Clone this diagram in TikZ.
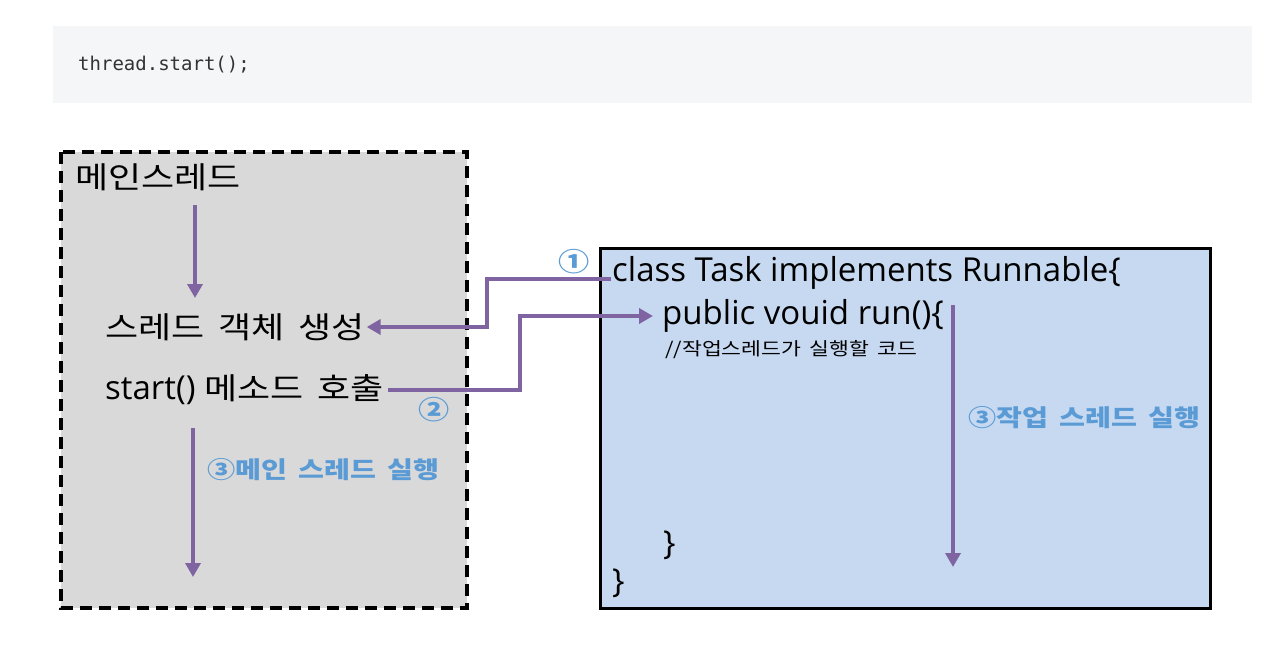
\documentclass[tikz,border=0pt]{standalone}
\usepackage{fontspec}
\setmainfont{Open Sans}
\newfontfamily\kr[FakeStretch=1.2,WordSpace=1.7]{Noto Sans CJK KR}
\newfontfamily\codefont{DejaVu Sans Mono}
\newcommand\krbig{\kr\fontsize{30}{36}\selectfont}
\usetikzlibrary{arrows.meta,calc}
\definecolor{codebg}{HTML}{F5F6F8}
\definecolor{codetxt}{HTML}{333333}
\definecolor{mainbg}{HTML}{D9D9D9}
\definecolor{taskbg}{HTML}{C6D9F1}
\definecolor{purp}{HTML}{8064A2}
\definecolor{numblue}{HTML}{5B9BD5}
\tikzset{
  txt/.style={anchor=west,inner sep=0pt,font=\fontsize{33}{38}\selectfont},
  small/.style={anchor=west,inner sep=0pt,font=\kr\fontsize{18}{21}\selectfont},
  lbl/.style={anchor=west,inner sep=0pt,text=numblue,font=\kr\bfseries\fontsize{23.5}{28}\selectfont},
  num/.style={inner sep=0pt,text=numblue,font=\kr\bfseries\fontsize{26}{30}\selectfont},
  arr/.style={draw=purp,line width=4pt,-{Triangle[length=14pt,width=15pt]}},
  ln/.style={draw=purp,line width=4pt}
}
\begin{document}
\begin{tikzpicture}[x=1pt,y=-1pt]
\useasboundingbox (0,0) rectangle (1284,647);
\fill[white] (0,0) rectangle (1284,647);
% code block
\fill[codebg] (53,26) rectangle (1252,103);
\node[anchor=west,inner sep=0pt,text=codetxt,font=\codefont\fontsize{19}{22}\selectfont] (code) at (78,65) {thread.start();};
% main thread box
\draw[fill=mainbg,line width=3.5pt,dash pattern=on 12pt off 7pt] (61,152) rectangle (467,608);
% task box
\draw[fill=taskbg,line width=3pt] (600,248) rectangle (1210,608);
% texts left
\node[txt] (main) at (75,177) {\krbig 메인스레드};
\node[txt] (create) at (105,327) {\krbig 스레드 객체 생성};
\node[txt] (call) at (105,390) {start() {\krbig 메소드 호출}};
\node[lbl] (mainrun) at (207,470) {③메인 스레드 실행};
% texts right
\node[txt] (cls) at (612,273) {class Task implements Runnable\{};
\node[txt] (run) at (662,316) {public vouid run()\{};
\node[small] (cmt) at (665,350) {//작업스레드가 실행할 코드};
\node[lbl] (taskrun) at (968,418) {③작업 스레드 실행};
\node[txt] (close1) at (663,545) {\}};
\node[txt] (close2) at (612,583) {\}};
% numbers
\node[num] (n1) at (574,262) {①};
\node[num] (n2) at (434,410) {②};
% coordinates for arrows
\coordinate (a1s) at (195,205);
\coordinate (a1e) at (195,298);
\coordinate (a2s) at (193,428);
\coordinate (a2e) at (193,577);
\coordinate (a3s) at (953,305);
\coordinate (a3e) at (953,567);
\coordinate (v1) at (487,0);
\coordinate (v2) at (520,0);
% connectors
\draw[arr] ([xshift=-1pt,yshift=-6pt]cls.west) -- ([yshift=-6pt]cls.west -| v1) -- (v1 |- create.east) -- ([xshift=2pt]create.east);
\draw[arr] ([xshift=4pt]call.east) -- (v2 |- call.east) -- (v2 |- run.west) -- ([xshift=-9pt]run.west);
\draw[arr] (a1s) -- (a1e);
\draw[arr] (a2s) -- (a2e);
\draw[arr] (a3s) -- (a3e);
\end{tikzpicture}
\end{document}
